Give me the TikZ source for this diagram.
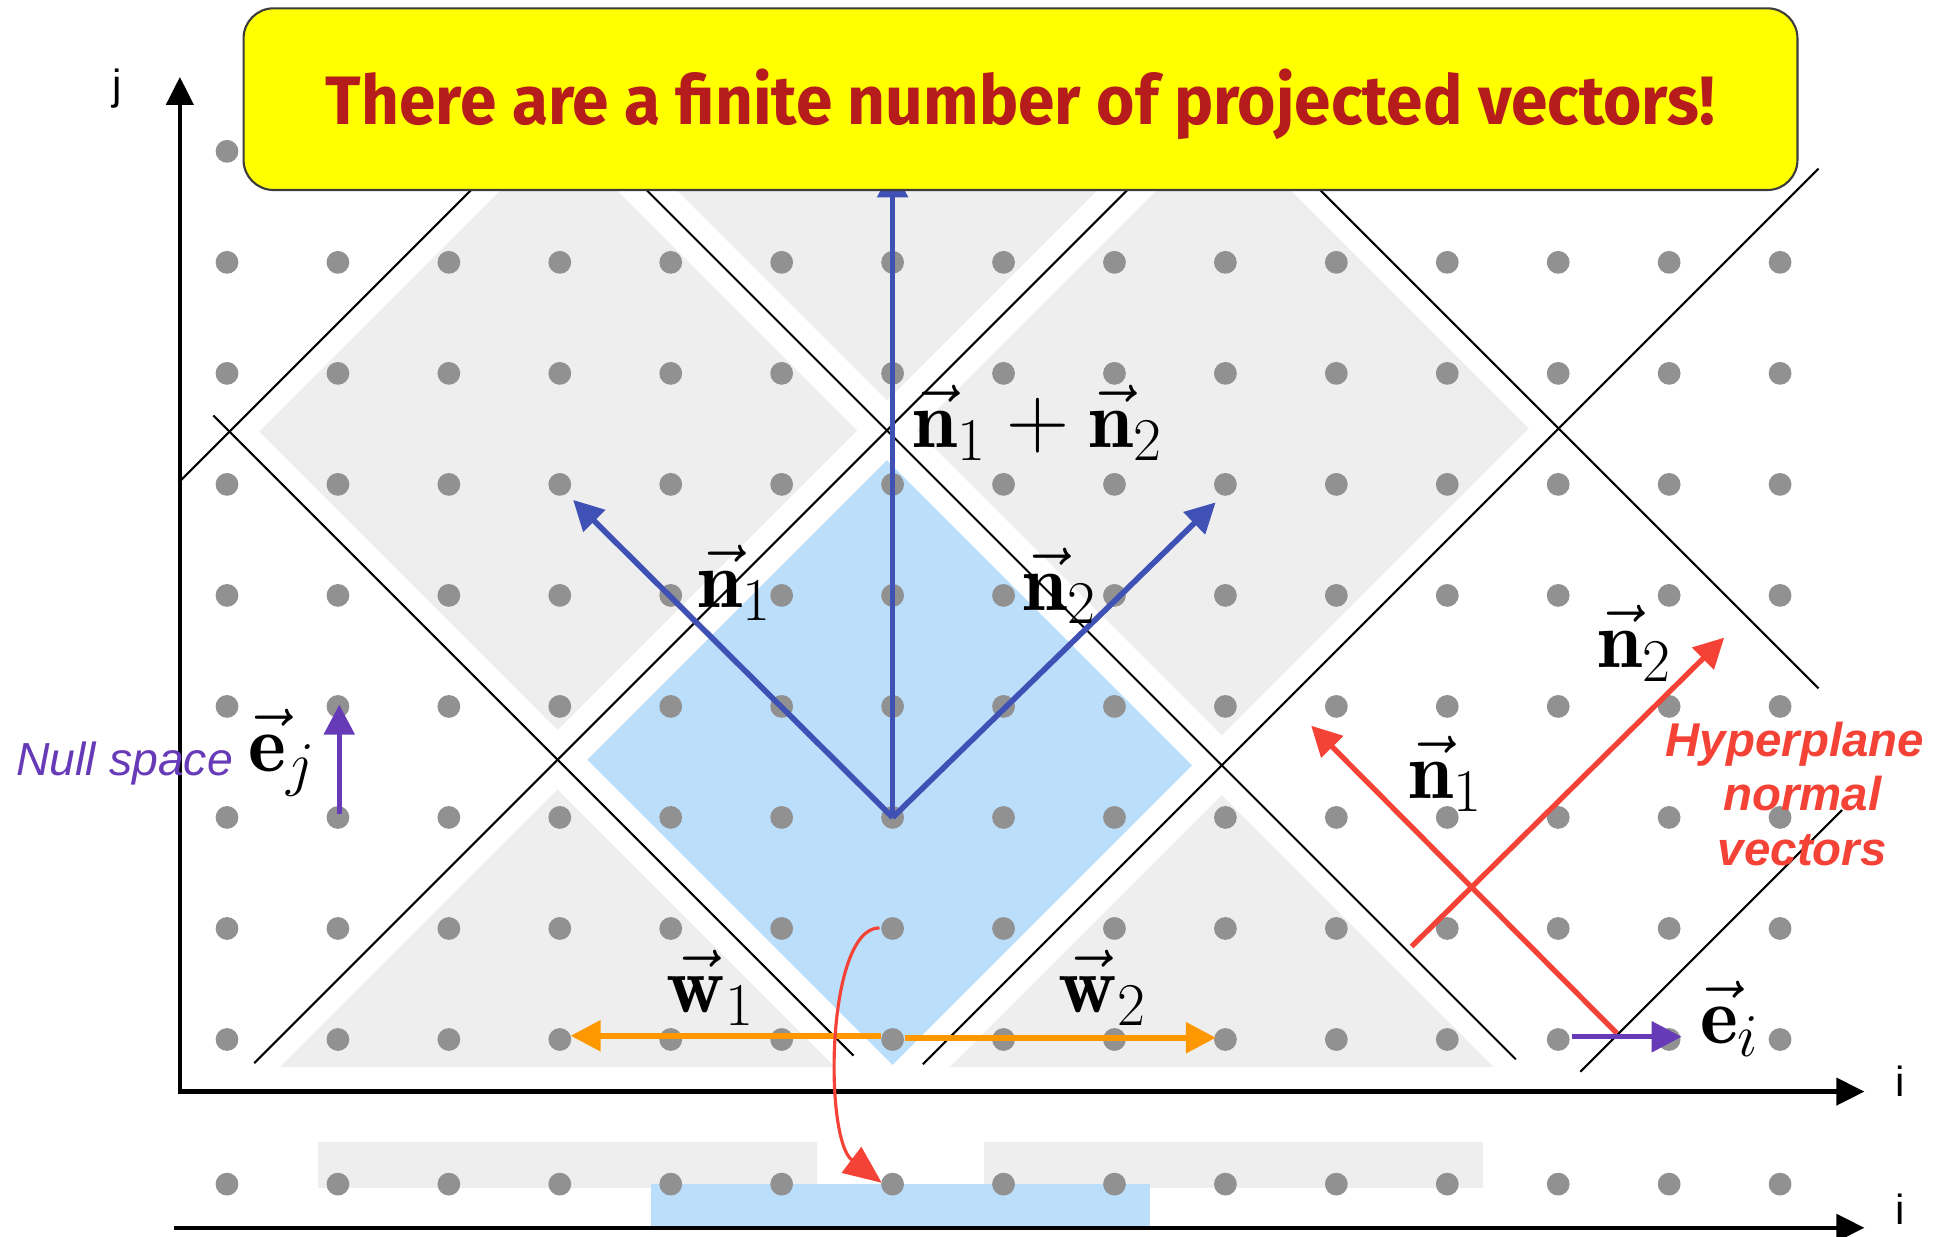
\documentclass[tikz,border=0pt]{standalone}
\usepackage{fontspec}
\usepackage{graphicx}
\usetikzlibrary{arrows.meta}
\newfontfamily\titlefont{Fira Sans}
\newfontfamily\lsans{Liberation Sans}
\DeclareMathSizes{23}{23}{18.5}{14}
\definecolor{dotgray}{RGB}{145,145,145}
\definecolor{shgray}{RGB}{238,238,238}
\definecolor{shblue}{RGB}{187,222,251}
\definecolor{vblue}{RGB}{63,81,181}
\definecolor{vorange}{RGB}{255,152,0}
\definecolor{vpurple}{RGB}{103,58,183}
\definecolor{vred}{RGB}{244,67,54}
\definecolor{titlered}{RGB}{183,28,28}
\definecolor{boxyellow}{RGB}{255,255,0}
\definecolor{boxborder}{RGB}{60,60,60}
\tikzset{
  hyper/.style={black, line width=0.6pt},
  axisline/.style={black, line width=1.2pt, line join=miter},
  vecarrow/.style={line width=1.6pt, -{Triangle[length=0.3cm,width=0.3cm]}},
  bluevec/.style={vecarrow, draw=vblue, fill=vblue},
  orangevec/.style={vecarrow, draw=vorange, fill=vorange},
  redvec/.style={vecarrow, draw=vred, fill=vred, line width=1.5pt},
  purplevec/.style={vecarrow, draw=vpurple, fill=vpurple, line width=1.5pt},
  mathlabel/.style={inner sep=0pt, anchor=base west, font=\fontsize{23}{27}\selectfont},
  axlabel/.style={inner sep=0pt, anchor=base, font=\lsans\fontsize{12}{14}\selectfont},
  hyptext/.style={inner sep=0pt, anchor=base, text=vred, font=\lsans\bfseries\itshape\fontsize{13.5}{16}\selectfont},
  lattdot/.style={fill=dotgray},
}
\begin{document}
\begin{tikzpicture}[x=0.012404cm, y=-0.012404cm]
\useasboundingbox (0,0) rectangle (1568,997);

% shaded regions
\begin{scope}
  \clip (0,10) rectangle (1568,860);
  \fill[shgray] (209,348) -- (450.5,106.5) -- (691,347) -- (449.5,588.5) -- cycle;
  \fill[shgray] (474.5,82.5) -- (722,-165) -- (962.5,75.5) -- (715,323) -- cycle;
  \fill[shgray] (739,347) -- (986.5,99.5) -- (1232.5,345.5) -- (985,593) -- cycle;
  \fill[shgray] (206,880) -- (449.5,636.5) -- (695.5,882.5) -- (452,1126) -- cycle;
  \fill[shgray] (743.5,882.5) -- (985,641) -- (1229,885) -- (987.5,1126.5) -- cycle;
  \fill[shblue] (473.5,612.5) -- (715,371) -- (961,617) -- (719.5,858.5) -- cycle;
\end{scope}

% hyperplanes
\draw[hyper] (145,388) -- (433,100);
\draw[hyper] (205,857) -- (962,100);
\draw[hyper] (744,858) -- (1466,136);
\draw[hyper] (1274,864) -- (1485,653);
\draw[hyper] (172,335) -- (688,851);
\draw[hyper] (468,100) -- (1222,854);
\draw[hyper] (1011,100) -- (1466,555);

% projected strip
\fill[shgray] (256,920.6) rectangle (658.7,957.5);
\fill[shgray] (793,920.6) rectangle (1195.3,957.5);
\fill[shblue] (525,954.6) rectangle (926.7,989.8);

% lattice dots
\foreach \i in {0,...,14}{
  \foreach \j in {0,...,8}{
    \fill[lattdot] ({183+89.43*\i},{838-89.5*\j}) circle[radius=0.114cm];
  }
  \fill[lattdot] ({183+89.43*\i},954.6) circle[radius=0.114cm];
}

% axes
\coordinate (yaxtop) at (145,62);
\coordinate (axorig) at (145,880);
\coordinate (xaxend) at (1503,880);
\draw[axisline, {Triangle[length=0.28cm,width=0.27cm]}-{Triangle[length=0.28cm,width=0.27cm]}] (yaxtop) -- (axorig) -- (xaxend);
\coordinate (ax2start) at (140.4,989.8);
\coordinate (ax2end) at (1503,989.8);
\draw[axisline, -{Triangle[length=0.28cm,width=0.27cm]}] (ax2start) -- (ax2end);
\node[axlabel] (jlab) at (94.3,80) {j};
\node[axlabel] (ilab) at (1531.8,884) {i};
\node[axlabel] (ilab2) at (1531.5,987) {i};

% blue normal vectors
\coordinate (O) at (719.6,659);
\coordinate (n1tip) at (462,403);
\coordinate (n2tip) at (980,405);
\coordinate (nsumtip) at (719.6,135);
\draw[bluevec] (O) -- (n1tip);
\draw[bluevec] (O) -- (n2tip);
\draw[bluevec] (O) -- (nsumtip);

% orange projected vectors
\coordinate (w1s) at (710,835);
\coordinate (w1tip) at (460,835);
\coordinate (w2s) at (729.3,836.6);
\coordinate (w2tip) at (980.2,836.6);
\draw[orangevec] (w1s) -- (w1tip);
\draw[orangevec] (w2s) -- (w2tip);

% red hyperplane normals
\coordinate (rn1s) at (1303.4,833);
\coordinate (rn1tip) at (1057,585);
\coordinate (rn2s) at (1138,763);
\coordinate (rn2tip) at (1390,514);
\draw[redvec] (rn1s) -- (rn1tip);
\draw[redvec] (rn2s) -- (rn2tip);

% purple unit vectors
\coordinate (eis) at (1267,835.8);
\coordinate (eitip) at (1355.7,835.8);
\coordinate (ejs) at (273.5,656);
\coordinate (ejtip) at (273.5,568);
\draw[purplevec] (eis) -- (eitip);
\draw[purplevec] (ejs) -- (ejtip);

% red projection curve
\coordinate (cs) at (709,748);
\coordinate (ce) at (710.8,953.5);
\draw[vred, line width=0.9pt, -{Triangle[length=0.38cm,width=0.32cm]}] (cs) .. controls (666,748) and (664,918) .. (ce);

% math labels
\node[mathlabel] (lsum) at (735,361) {$\vec{\mathbf{n}}_1+\vec{\mathbf{n}}_2$};
\node[mathlabel] (ln1) at (562,490) {$\vec{\mathbf{n}}_1$};
\node[mathlabel] (ln2) at (824,492) {$\vec{\mathbf{n}}_2$};
\node[mathlabel] (lw1) at (537,816) {$\vec{\mathbf{w}}_1$};
\node[mathlabel] (lw2) at (853,816) {$\vec{\mathbf{w}}_2$};
\node[mathlabel] (lej) at (200,622) {$\vec{\mathbf{e}}_j$};
\node[mathlabel] (lei) at (1370,841) {$\vec{\mathbf{e}}_i$};
\node[mathlabel] (lrn2) at (1287,538.5) {$\vec{\mathbf{n}}_2$};
\node[mathlabel] (lrn1) at (1135,643.7) {$\vec{\mathbf{n}}_1$};

% text labels
\node[inner sep=0pt, anchor=base west, text=vpurple, font=\lsans\itshape\fontsize{13.2}{15}\selectfont] (nulltxt) at (12.6,624.8) {Null space};
\node[hyptext] (hyp1) at (1447,610) {Hyperplane};
\node[hyptext] (hyp2) at (1453,653.6) {normal};
\node[hyptext] (hyp3) at (1453,697.4) {vectors};

% title box
\node[draw=boxborder, fill=boxyellow, rounded corners=0.3cm, minimum width=15.54cm, minimum height=1.817cm, inner sep=0pt, line width=0.6pt] (titlebox) at (822.7,79.95) {};
\node[anchor=base, inner sep=0pt, text=titlered] (titletext) at (822.6,100) {\resizebox{13.89cm}{\height}{\titlefont\bfseries\fontsize{19.5}{22}\selectfont There are a finite number of projected vectors!}};
\end{tikzpicture}
\end{document}
